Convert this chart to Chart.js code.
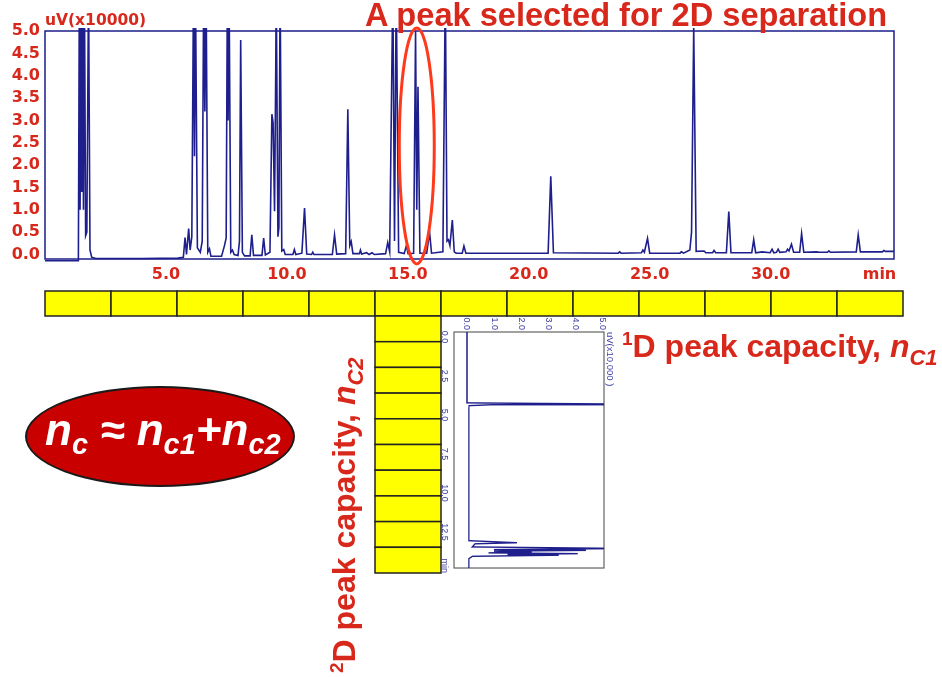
<!DOCTYPE html>
<html>
<head>
<meta charset="utf-8">
<script src="https://cdn.jsdelivr.net/npm/chart.js@4.4.1/dist/chart.umd.min.js"></script>
<style>
  html, body { margin: 0; padding: 0; background: #fff; }
  body { width: 942px; height: 677px; position: relative; overflow: hidden; font-family: 'Liberation Sans', Arial, sans-serif; }
  .abs { position: absolute; white-space: nowrap; }
  #main { position: absolute; left: 0; top: 0; }
  #title { left: 365px; top: -1px; font: bold 32.6px/32px 'Liberation Sans', Arial, sans-serif; color: #d8281c; }
  #unit { left: 45px; top: 12px; font: bold 15.5px/16px 'DejaVu Sans', Verdana, sans-serif; color: #d8281c; }
  #cells { position: absolute; left: 0; top: 0; }
  .cap { font: bold 32px/32px 'Liberation Sans', Arial, sans-serif; color: #d8281c; }
  .cap sup { font-size: 19px; vertical-align: baseline; position: relative; top: -12px; }
  .cap sub { font-size: 22px; font-style: italic; vertical-align: baseline; position: relative; top: 8px; }
  #cap1 { left: 622px; top: 330px; }
  #cap2 { left: 328px; top: 673px; transform-origin: 0 0; transform: rotate(-90deg); }
  #miniWrap { position: absolute; left: 434px; top: 302px; width: 275px; height: 190px; transform-origin: 0 0; transform: translateX(190px) rotate(90deg); }
  #miniUnit { left: 30px; top: 9px; font: 9.5px/10px 'Liberation Sans', Arial, sans-serif; color: #3a3aa0; }
  #oval { left: 25px; top: 386px; width: 270px; height: 101px; box-sizing: border-box; background: #c80000; border: 2px solid #1a1a1a; border-radius: 50%; }
  #formula { left: 45px; top: 408px; font: italic bold 44px/44px 'Liberation Sans', Arial, sans-serif; color: #fff; }
  #formula sub { font-size: 29px; vertical-align: baseline; position: relative; top: 9px; }
</style>
</head>
<body>
<canvas id="main" width="942" height="300"></canvas>
<div id="unit" class="abs">uV(x10000)</div>
<div id="title" class="abs">A peak selected for 2D separation</div>
<svg id="cells" width="942" height="677"></svg>
<div id="miniWrap">
  <canvas id="mini" width="275" height="190"></canvas>
  <div id="miniUnit" class="abs">uV(x10,000 )</div>
</div>
<div id="cap1" class="abs cap"><sup>1</sup>D peak capacity, <i>n</i><sub>C1</sub></div>
<div id="cap2" class="abs cap"><sup>2</sup>D peak capacity, <i>n</i><sub>C2</sub></div>
<div id="oval" class="abs"></div>
<div id="formula" class="abs"><span>n</span><sub>c</sub> ≈ <span>n</span><sub>c1</sub>+<span>n</span><sub>c2</sub></div>

<script>
// ---- first-dimension chromatogram: [retention time (min), signal (uV x10000)] ----
const trace1D = [
  [0.00,-0.14],[1.38,-0.14],
  [1.42,6],[1.45,1.0],[1.49,6],[1.52,1.4],[1.56,6],[1.59,1.0],[1.63,6],[1.68,0.42],[1.73,0.5],[1.80,6],[1.86,0.1],[1.93,-0.06],[2.10,-0.09],
  [4.00,-0.09],[5.50,-0.08],[5.72,-0.06],[5.79,0.38],[5.85,0.0],[5.94,0.58],[6.00,0.1],[6.07,0.4],[6.14,6],[6.18,2.2],[6.22,6],[6.30,0.15],
  [6.42,0.05],[6.50,0.3],[6.56,6],[6.61,3.2],[6.66,6],[6.73,0.05],[6.80,0.13],[6.86,-0.04],
  [7.30,-0.04],[7.42,0.2],[7.49,0.37],[7.54,6],[7.57,3.0],[7.61,6],[7.68,0.05],[7.75,0.1],[7.82,0.0],[7.98,-0.02],[8.04,0.3],[8.09,4.8],[8.16,0.05],[8.25,-0.03],
  [8.48,-0.03],[8.55,0.44],[8.62,-0.02],[8.97,-0.02],[9.04,0.37],[9.11,-0.01],[9.30,0.05],[9.38,3.14],[9.43,2.95],[9.49,0.97],[9.54,4.17],[9.56,6],
  [9.63,0.4],[9.67,0.6],[9.72,6],[9.79,0.08],[9.87,0.11],[9.93,0.0],
  [10.25,0.0],[10.31,0.11],[10.37,0.0],[10.62,0.03],[10.73,1.04],[10.82,0.01],[11.02,0.0],[11.07,0.05],[11.12,0.0],
  [11.88,0.0],[11.97,0.44],[12.06,0.01],[12.43,0.02],[12.52,3.25],[12.60,0.2],[12.66,0.29],[12.73,0.02],[13.00,0.02],[13.04,0.1],[13.09,0.01],
  [13.30,0.04],[13.40,0.0],[13.52,0.04],[13.62,0.0],
  [14.08,0.02],[14.17,0.27],[14.25,0.06],[14.38,6],[14.45,0.3],[14.52,6],[14.62,0.05],[14.85,0.02],[14.94,0.2],[15.01,0.02],
  [15.24,0.03],[15.32,5.0],[15.37,1.0],[15.42,3.75],[15.50,0.03],[15.78,0.03],[15.90,0.5],[15.98,0.03],
  [16.45,0.06],[16.55,6],[16.62,0.3],[16.68,0.33],[16.74,0.2],[16.84,0.77],[16.92,0.06],[17.00,0.03],[17.25,0.03],[17.32,0.19],[17.40,0.03],
  [20.80,0.03],[20.91,1.75],[21.02,0.04],
  [23.70,0.03],[23.76,0.06],[23.82,0.03],[24.66,0.04],[24.72,0.1],[24.78,0.05],[24.91,0.36],[25.00,0.03],
  [26.25,0.03],[26.31,0.06],[26.40,0.03],[26.66,0.1],[26.73,0.5],[26.82,5.1],[26.92,0.07],[27.25,0.08],[27.32,0.04],[27.60,0.04],[27.66,0.09],[27.73,0.04],
  [28.17,0.04],[28.27,0.96],[28.36,0.04],[29.22,0.04],[29.30,0.33],[29.38,0.04],[29.65,0.06],[29.98,0.04],[30.06,0.12],[30.13,0.04],
  [30.24,0.05],[30.31,0.12],[30.38,0.05],[30.64,0.06],[30.70,0.12],[30.76,0.08],[30.86,0.23],[30.95,0.05],[31.20,0.05],[31.28,0.47],[31.37,0.05],
  [31.90,0.06],[32.00,0.05],[32.35,0.05],[32.41,0.08],[32.47,0.05],[33.54,0.06],[33.62,0.44],[33.71,0.06],[34.62,0.06],[34.68,0.09],[34.74,0.07],[35.10,0.07]
];
const xTickValues1D = [5, 10, 15, 20, 25, 30, 34.5];
const xTickLabels1D = ['5.0', '10.0', '15.0', '20.0', '25.0', '30.0', 'min'];
const yTickValues1D = [0, 0.5, 1, 1.5, 2, 2.5, 3, 3.5, 4, 4.5, 5];
const selectedPeakTime = 15.37;

// ---- second-dimension chromatogram of the heart-cut fraction ----
const trace2D = [
  [-0.32,0.0],[4.22,0.0],[4.30,6],[4.34,0.9],[4.40,0.08],[4.60,0.07],
  [13.05,0.07],[13.18,1.85],[13.25,0.3],[13.45,0.2],[13.55,6],[13.62,1.0],[13.67,4.4],[13.72,1.0],[13.78,2.4],[13.83,0.8],
  [13.88,4.1],[13.93,1.5],[13.98,3.4],[14.05,0.2],[14.20,0.07],[14.80,0.07]
];
const xTickValues2D = [0, 2.5, 5, 7.5, 10, 12.5, 14.65];
const xTickLabels2D = ['0.0', '2.5', '5.0', '7.5', '10.0', '12.5', 'min'];
const yTickValues2D = [0, 1, 2, 3, 4, 5];

// ---- peak-capacity grid: one row of 1D slots, one column of 2D slots ----
const slots1D = 13;
const slots2D = 10;

const RED = '#d8281c';
const NAVY = '#1e1e8c';

const framePlugin = {
  id: 'frame',
  beforeDatasetsDraw(chart, args, opts) {
    const { ctx, chartArea: a } = chart;
    ctx.save();
    ctx.strokeStyle = opts.color;
    ctx.lineWidth = opts.width;
    ctx.strokeRect(a.left, a.top, a.right - a.left, a.bottom - a.top);
    ctx.restore();
  }
};

const ringPlugin = {
  id: 'ring',
  afterDatasetsDraw(chart, args, opts) {
    if (!opts.show) return;
    const { ctx, scales } = chart;
    const cx = scales.x.getPixelForValue(opts.time);
    const cy = scales.y.getPixelForValue(opts.level);
    ctx.save();
    ctx.strokeStyle = opts.color;
    ctx.lineWidth = opts.width;
    ctx.beginPath();
    ctx.ellipse(cx, cy, opts.rx, opts.ry, 0, 0, Math.PI * 2);
    ctx.stroke();
    ctx.restore();
  }
};

function fixedTicks(values) {
  return scale => { scale.ticks = values.map(v => ({ value: v })); };
}

// first-dimension chromatogram
new Chart(document.getElementById('main'), {
  type: 'scatter',
  data: {
    datasets: [{
      data: trace1D.map(([x, y]) => ({ x, y })),
      showLine: true,
      borderColor: NAVY,
      borderWidth: 1.6,
      pointRadius: 0,
      tension: 0,
      clip: { left: 0, top: 3, right: 0, bottom: 4 }
    }]
  },
  options: {
    responsive: false,
    devicePixelRatio: 1,
    animation: false,
    events: [],
    layout: { padding: { top: 31, right: 48, bottom: 0, left: 0 } },
    plugins: {
      legend: { display: false },
      tooltip: { enabled: false },
      frame: { color: NAVY, width: 1.5 },
      ring: { show: true, time: selectedPeakTime, level: 2.43, rx: 17.5, ry: 118, color: '#ff3a1c', width: 3 }
    },
    scales: {
      x: {
        type: 'linear', min: 0, max: 35.1,
        grid: { display: false, drawTicks: false },
        border: { display: false },
        afterBuildTicks: fixedTicks(xTickValues1D),
        afterFit: s => { s.height = 41; },
        ticks: {
          autoSkip: false, maxRotation: 0, padding: 6, color: RED,
          font: { family: "'DejaVu Sans', Verdana, sans-serif", size: 16, weight: 'bold' },
          callback: (v, i) => xTickLabels1D[i]
        }
      },
      y: {
        min: -0.1, max: 5.0,
        grid: { display: false, drawTicks: false },
        border: { display: false },
        afterBuildTicks: fixedTicks(yTickValues1D),
        afterFit: s => { s.width = 45; },
        ticks: {
          autoSkip: false, padding: 5, color: RED,
          font: { family: "'DejaVu Sans', Verdana, sans-serif", size: 16, weight: 'bold' },
          callback: v => Number(v).toFixed(1)
        }
      }
    }
  },
  plugins: [framePlugin, ringPlugin]
});

// second-dimension chromatogram (the wrapper turns it a quarter turn)
new Chart(document.getElementById('mini'), {
  type: 'scatter',
  data: {
    datasets: [{
      data: trace2D.map(([x, y]) => ({ x, y })),
      showLine: true,
      borderColor: NAVY,
      borderWidth: 1.4,
      pointRadius: 0,
      tension: 0,
      clip: 0
    }]
  },
  options: {
    responsive: false,
    devicePixelRatio: 1,
    animation: false,
    events: [],
    layout: { padding: { top: 20, right: 8, bottom: 0, left: 0 } },
    plugins: {
      legend: { display: false },
      tooltip: { enabled: false },
      frame: { color: '#444', width: 1 },
      ring: { show: false }
    },
    scales: {
      x: {
        type: 'linear', min: -0.32, max: 14.8,
        grid: { display: false, drawTicks: false },
        border: { display: false },
        afterBuildTicks: fixedTicks(xTickValues2D),
        afterFit: s => { s.height = 20; },
        ticks: {
          autoSkip: false, maxRotation: 0, padding: 4, color: '#3a3aa0',
          font: { family: "'Liberation Sans', Arial, sans-serif", size: 9 },
          callback: (v, i) => xTickLabels2D[i]
        }
      },
      y: {
        min: -0.48, max: 5.07,
        grid: { display: false, drawTicks: false },
        border: { display: false },
        afterBuildTicks: fixedTicks(yTickValues2D),
        afterFit: s => { s.width = 30; },
        ticks: {
          autoSkip: false, padding: 2, color: '#3a3aa0',
          font: { family: "'Liberation Sans', Arial, sans-serif", size: 9 },
          callback: v => Number(v).toFixed(1)
        }
      }
    }
  },
  plugins: [framePlugin, ringPlugin]
});

// peak-capacity slots
(function drawSlots() {
  const svg = document.getElementById('cells');
  const NS = 'http://www.w3.org/2000/svg';
  const rowLeft = 45, rowTop = 291, cellW = 66, rowH = 25;
  const colLeft = 375, colTop = 316, colBottom = 573;
  const colH = (colBottom - colTop) / slots2D;
  function rect(x, y, w, h) {
    const r = document.createElementNS(NS, 'rect');
    r.setAttribute('x', x); r.setAttribute('y', y);
    r.setAttribute('width', w); r.setAttribute('height', h);
    r.setAttribute('fill', '#ffff00');
    r.setAttribute('stroke', '#222');
    r.setAttribute('stroke-width', '1.5');
    svg.appendChild(r);
  }
  for (let i = 0; i < slots1D; i++) rect(rowLeft + i * cellW, rowTop, cellW, rowH);
  for (let j = 0; j < slots2D; j++) rect(colLeft, colTop + j * colH, cellW, colH);
})();
</script>
</body>
</html>
